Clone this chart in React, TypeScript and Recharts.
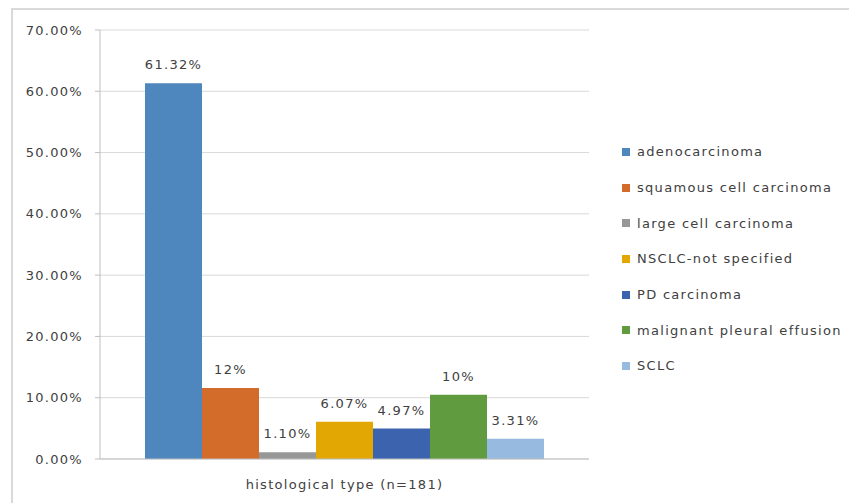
import React from 'react';
import { BarChart, Bar, XAxis, YAxis, CartesianGrid, Legend, LabelList } from 'recharts';

const category = 'histological type (n=181)';
const seriesNames = [
  'adenocarcinoma',
  'squamous cell carcinoma',
  'large cell carcinoma',
  'NSCLC-not specified',
  'PD carcinoma',
  'malignant pleural effusion',
  'SCLC',
];
const seriesValues = [61.32, 11.6, 1.1, 6.07, 4.97, 10.5, 3.31];
const seriesLabels = ['61.32%', '12%', '1.10%', '6.07%', '4.97%', '10%', '3.31%'];
const seriesColors = ['#4E86BE', '#D36C2B', '#979797', '#E2A703', '#3C64AE', '#619B40', '#97BAE0'];
const yTicks = [0, 10, 20, 30, 40, 50, 60, 70];

const row: Record<string, any> = { category };
seriesNames.forEach((_, i) => {
  row[`s${i}`] = seriesValues[i];
  row[`l${i}`] = seriesLabels[i];
});
const data = [row];

const FONT = '"DejaVu Sans", sans-serif';
const textStyle = { fontFamily: FONT, fontSize: 13, letterSpacing: 1.3 };

const LegendContent = (props: any) => {
  const payload = [...(props.payload || [])].sort(
    (a: any, b: any) => seriesNames.indexOf(a.value) - seriesNames.indexOf(b.value)
  );
  return (
    <div style={{ fontFamily: FONT, fontSize: 13, letterSpacing: 1.3, color: '#404040' }}>
      {payload.map((p: any, i: number) => (
        <div key={i} style={{ height: 35.7, display: 'flex', alignItems: 'center' }}>
          <span style={{ display: 'inline-block', width: 8, height: 8, background: p.color, marginRight: 7 }} />
          <span>{p.value}</span>
        </div>
      ))}
    </div>
  );
};

export default function App() {
  return (
    <div style={{ position: 'relative', width: 849, height: 495 }}>
      <div
        style={{
          position: 'absolute',
          left: 3,
          top: 0,
          width: 846,
          height: 495,
          borderTop: '2px solid #d9d9d9',
          borderLeft: '2px solid #d9d9d9',
          boxSizing: 'border-box',
        }}
      />
      <BarChart
        width={849}
        height={495}
        data={data}
        margin={{ top: 22, right: 268, bottom: 0, left: 0 }}
        barCategoryGap={45}
        barGap={0}
        style={{ position: 'absolute', left: 0, top: 0 }}
      >
        <CartesianGrid vertical={false} stroke="#d9d9d9" />
        <XAxis
          dataKey="category"
          height={44}
          tickLine={false}
          tickSize={0}
          tickMargin={21}
          axisLine={{ stroke: '#bfbfbf' }}
          tick={{ ...textStyle, fill: '#404040' }}
        />
        <YAxis
          width={92}
          domain={[0, 70]}
          ticks={yTicks}
          interval={0}
          tickFormatter={(v: number) => `${v.toFixed(2)}%`}
          tickSize={5}
          tickMargin={12}
          tickLine={{ stroke: '#bfbfbf' }}
          axisLine={{ stroke: '#bfbfbf' }}
          tick={{ ...textStyle, fill: '#404040' }}
        />
        <Legend
          layout="vertical"
          align="center"
          verticalAlign="middle"
          content={<LegendContent />}
          wrapperStyle={{ left: 614, top: 126, width: 235 }}
        />
        {seriesNames.map((name, i) => (
          <Bar key={name} dataKey={`s${i}`} name={name} fill={seriesColors[i]} isAnimationActive={false}>
            <LabelList dataKey={`l${i}`} position="top" offset={14} style={{ ...textStyle, fill: '#404040' }} />
          </Bar>
        ))}
      </BarChart>
    </div>
  );
}
